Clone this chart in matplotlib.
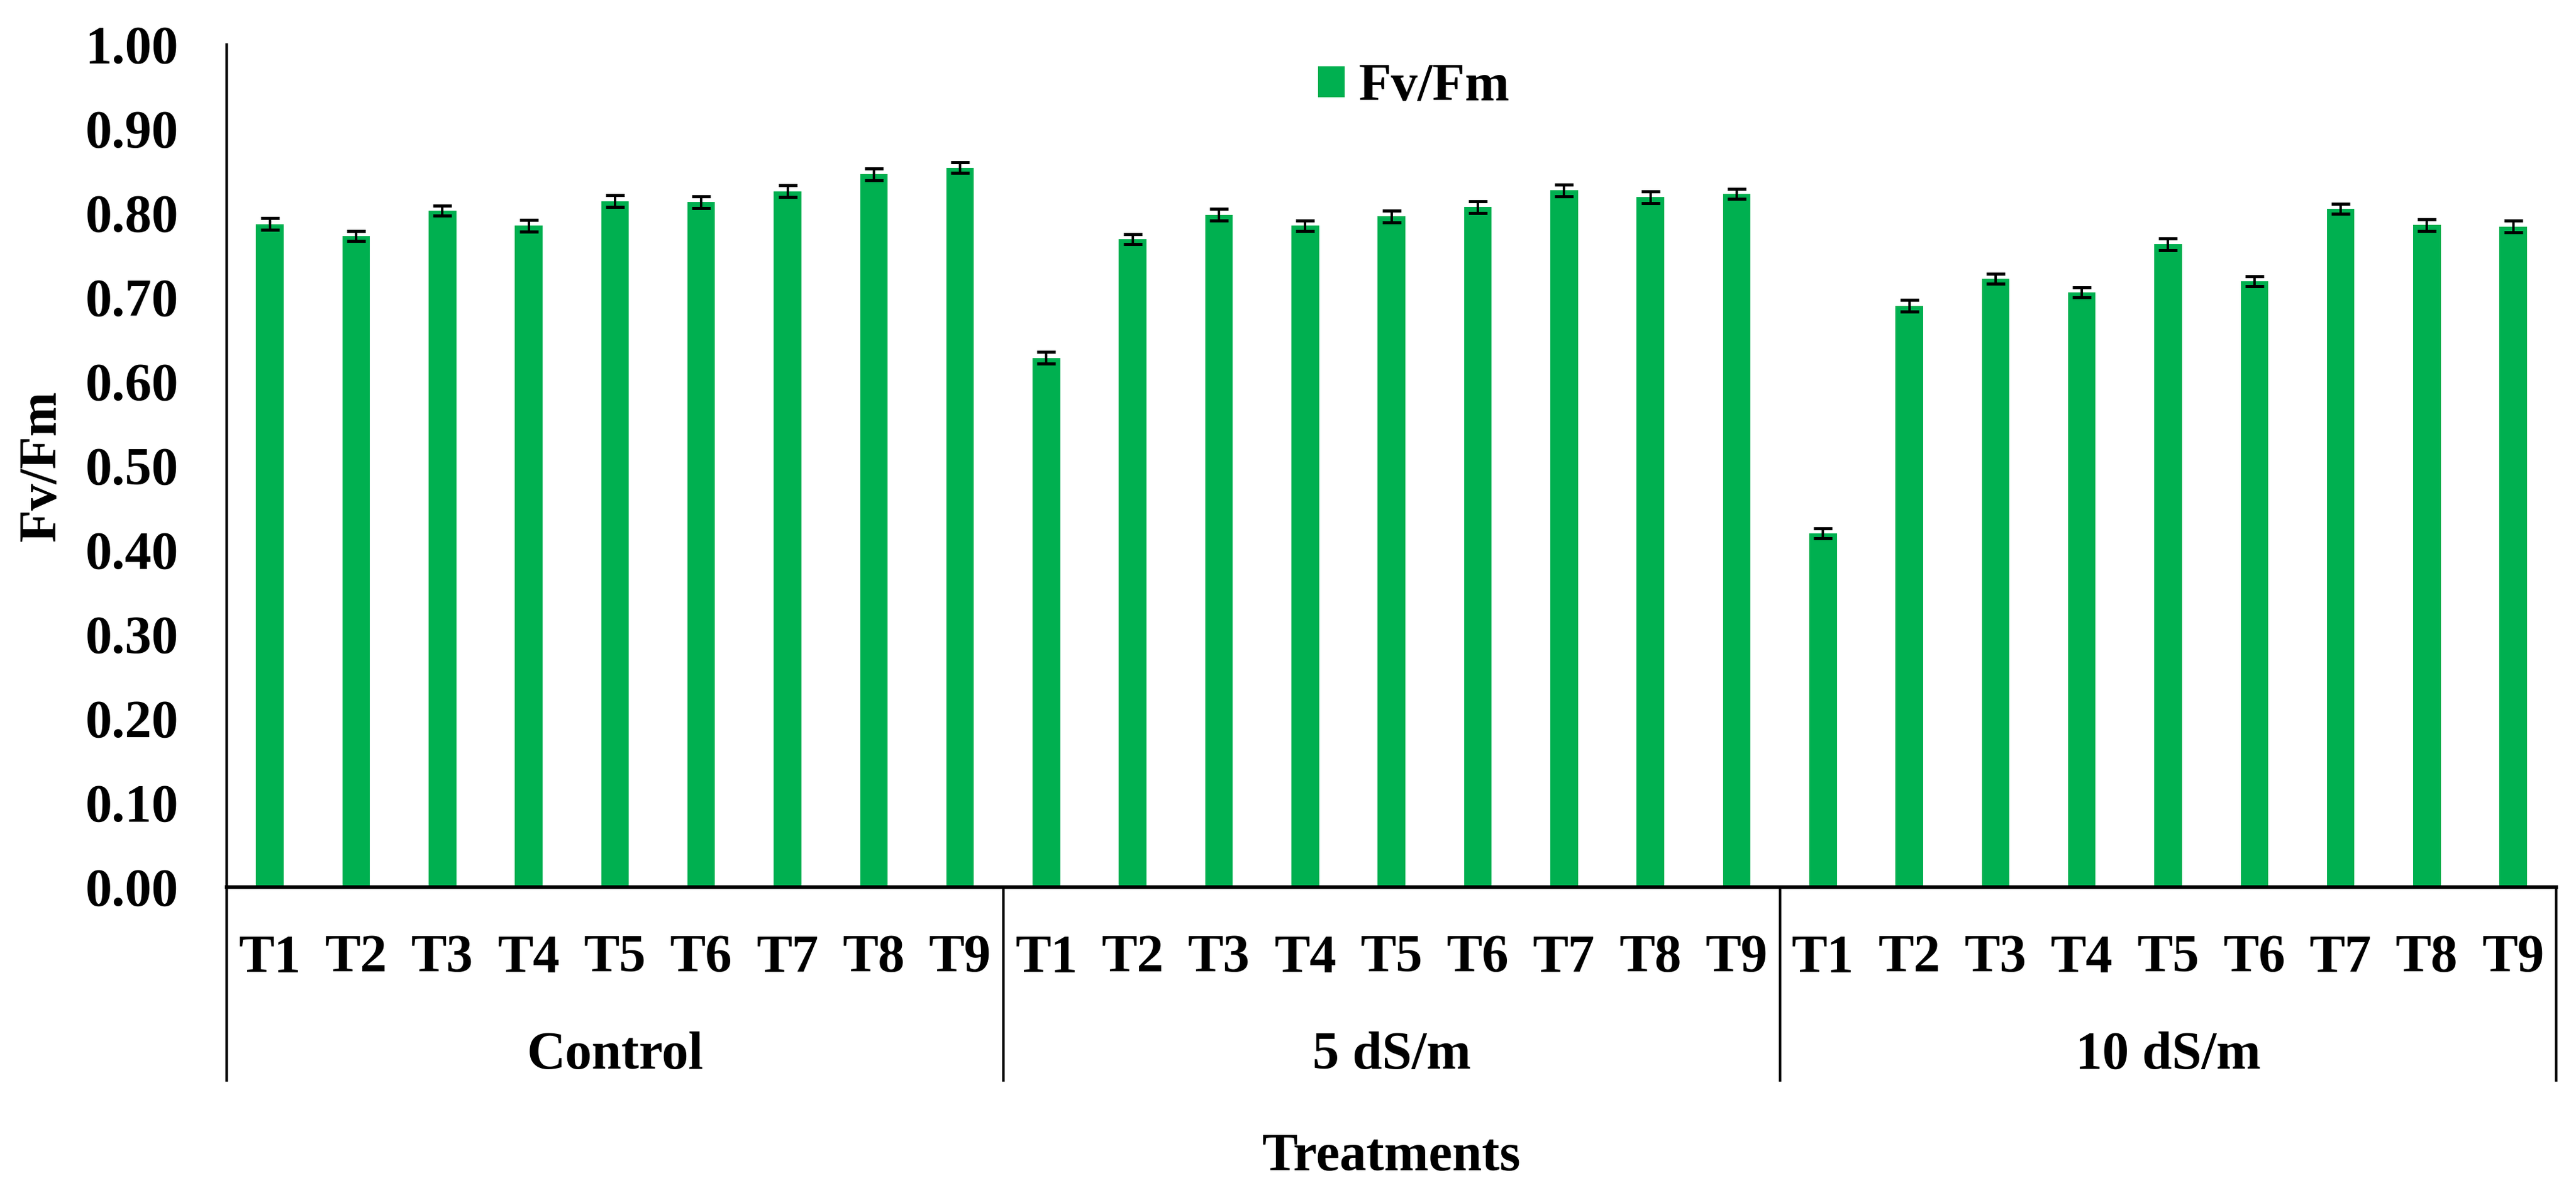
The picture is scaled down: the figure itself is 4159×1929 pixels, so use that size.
import matplotlib.pyplot as plt
import numpy as np

# --- data ---
groups = ["Control", "5 dS/m", "10 dS/m"]
treatments = ["T1", "T2", "T3", "T4", "T5", "T6", "T7", "T8", "T9"]

fvfm_control = [0.787, 0.773, 0.803, 0.785, 0.814, 0.813, 0.826, 0.846, 0.854]
fvfm_5ds = [0.628, 0.769, 0.798, 0.785, 0.796, 0.807, 0.827, 0.819, 0.823]
fvfm_10ds = [0.420, 0.690, 0.722, 0.706, 0.763, 0.719, 0.805, 0.786, 0.784]

err_control = [0.007, 0.006, 0.006, 0.007, 0.007, 0.007, 0.007, 0.007, 0.006]
err_5ds = [0.007, 0.006, 0.007, 0.006, 0.007, 0.007, 0.007, 0.007, 0.006]
err_10ds = [0.006, 0.007, 0.006, 0.006, 0.007, 0.006, 0.006, 0.007, 0.007]

yticks = [0.0, 0.1, 0.2, 0.3, 0.4, 0.5, 0.6, 0.7, 0.8, 0.9, 1.0]

values = fvfm_control + fvfm_5ds + fvfm_10ds
errors = err_control + err_5ds + err_10ds
x = np.arange(len(values))
n_per = len(treatments)

green = "#00B050"
plt.rcParams["font.family"] = ["Liberation Serif", "DejaVu Serif"]
plt.rcParams["font.weight"] = "bold"
fs = 62

fig = plt.figure(figsize=(41.59, 19.29), dpi=100)
ax = fig.add_axes([0.0880, 0.2576, 0.9044, 0.7051])

ax.bar(x, values, width=0.32, color=green, label="Fv/Fm",
       yerr=errors,
       error_kw=dict(ecolor="black", elinewidth=2.8, capsize=11, capthick=3.6))

ax.set_xlim(-0.5, len(values) - 0.5)
ax.set_ylim(0, 1.0)
ax.set_yticks(yticks)
ax.set_yticklabels([f"{v:.2f}" for v in yticks], fontsize=fs, fontweight="bold")
ax.tick_params(axis="y", length=0, pad=56)
ax.set_xticks([])

for s in ["top", "right"]:
    ax.spines[s].set_visible(False)
ax.spines["bottom"].set_linewidth(4.2)
ax.spines["left"].set_linewidth(3.0)

# multi-level category axis
tr = ax.get_xaxis_transform()
for i, xi in enumerate(x):
    ax.text(xi, -0.100, treatments[i % n_per], transform=tr, ha="center",
            va="baseline", fontsize=fs, fontweight="bold")
for g, name in enumerate(groups):
    mid = g * n_per + (n_per - 1) / 2
    ax.text(mid, -0.2154, name, transform=tr, ha="center", va="baseline",
            fontsize=fs, fontweight="bold")
for b in range(len(groups) + 1):
    xb = b * n_per - 0.5
    ax.plot([xb, xb], [0, -0.231], transform=tr, color="black", lw=3.0,
            clip_on=False, solid_capstyle="butt")

ax.text(0.5, -0.336, "Treatments", transform=ax.transAxes, ha="center",
        va="baseline", fontsize=fs, fontweight="bold")
fig.text(0.0166, 0.610, "Fv/Fm", rotation=90, ha="center", va="center",
         fontsize=fs, fontweight="bold")

ax.legend(loc="center left", bbox_to_anchor=(0.5117, 0.9264),
          bbox_transform=fig.transFigure, frameon=False, fontsize=fs,
          handlelength=0.5, handleheight=0.53, handletextpad=0.26,
          borderpad=0, borderaxespad=0, prop=dict(weight="bold", size=fs))

fig.savefig("out.png", dpi=100)
